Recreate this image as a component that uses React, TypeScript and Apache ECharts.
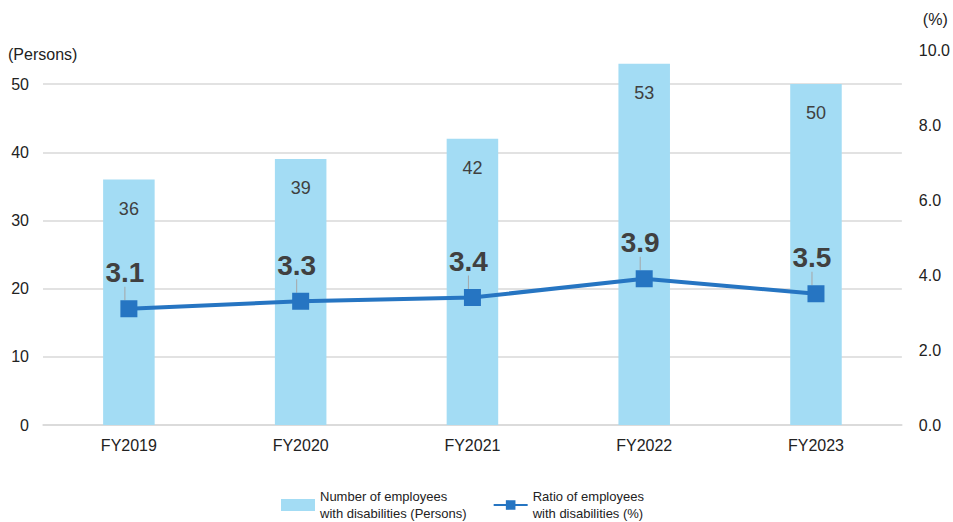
import React, { useEffect, useRef } from "react";
import * as echarts from "echarts";

const categories = ["FY2019", "FY2020", "FY2021", "FY2022", "FY2023"];
const employeeCounts = [36, 39, 42, 53, 50];
const employeeRatios = [3.1, 3.3, 3.4, 3.9, 3.5];
const barName = "Number of employees\nwith disabilities (Persons)";
const lineName = "Ratio of employees\nwith disabilities (%)";

const FONT = "'Liberation Sans', Arial, sans-serif";

export default function App() {
  const ref = useRef<HTMLDivElement>(null);
  useEffect(() => {
    if (!ref.current) return;
    const chart = echarts.init(ref.current, undefined, { renderer: "svg" });
    chart.setOption({
      animation: false,
      textStyle: { fontFamily: FONT },
      grid: { left: 43, right: 50, top: 50, bottom: 97, containLabel: false },
      legend: {
        bottom: -5,
        left: 276,
        itemWidth: 34,
        itemHeight: 12,
        itemGap: 26,
        textStyle: { fontSize: 13, color: "#222", lineHeight: 17, fontFamily: FONT },
        data: [
          { name: barName, icon: "rect" },
          { name: lineName },
        ],
      },
      xAxis: {
        type: "category",
        data: categories,
        axisLine: { show: true, lineStyle: { color: "#d9d9d9", width: 1.5 } },
        axisTick: { show: false },
        axisLabel: { color: "#222", fontSize: 16, margin: 12 },
      },
      yAxis: [
        {
          type: "value",
          min: 0,
          max: 55,
          interval: 10,
          name: "(Persons)",
          nameLocation: "end",
          nameGap: -12,
          nameTextStyle: { fontSize: 16, color: "#222", align: "left", padding: [0, 0, 0, -35] },
          axisLine: { show: false },
          axisTick: { show: false },
          axisLabel: { color: "#222", fontSize: 16, margin: 14, showMaxLabel: false },
          splitLine: {
            show: true,
            lineStyle: {
              color: ["#d9d9d9", "#d9d9d9", "#d9d9d9", "#d9d9d9", "#d9d9d9", "#d9d9d9", "rgba(0,0,0,0)"],
              width: 1.5,
            },
          },
        },
        {
          type: "value",
          min: 0,
          max: 10,
          interval: 2,
          name: "(%)",
          nameLocation: "end",
          nameGap: 23,
          nameTextStyle: { fontSize: 16, color: "#222", align: "left", padding: [0, 0, 0, 21] },
          axisLine: { show: false },
          axisTick: { show: false },
          splitLine: { show: false },
          axisLabel: {
            color: "#222",
            fontSize: 16,
            margin: 17,
            formatter: (v: number) => v.toFixed(1),
          },
        },
      ],
      series: [
        {
          name: barName,
          type: "bar",
          yAxisIndex: 0,
          data: employeeCounts,
          barWidth: "30%",
          itemStyle: { color: "#a3dcf4" },
          clip: false,
          label: {
            show: true,
            position: "insideTop",
            distance: 20,
            fontSize: 18,
            color: "#404040",
          },
        },
        {
          name: lineName,
          type: "line",
          yAxisIndex: 1,
          data: employeeRatios,
          symbol: "rect",
          symbolSize: 17,
          lineStyle: { color: "#2675c2", width: 4 },
          itemStyle: { color: "#2675c2" },
          z: 5,
          label: {
            show: true,
            position: "top",
            fontSize: 28,
            fontWeight: "bold",
            color: "#404040",
            formatter: (p: any) => Number(p.value).toFixed(1),
          },
          labelLayout: (params: any) => ({
            x: params.rect.x + params.rect.width / 2 - 4,
            y: params.rect.y + params.rect.height / 2 - 36,
            align: "center",
            verticalAlign: "middle",
          }),
          labelLine: {
            show: true,
            length2: 0,
            lineStyle: { color: "#a6a6a6", width: 1 },
          },
        },
      ],
    });
    return () => chart.dispose();
  }, []);
  return <div ref={ref} style={{ width: 953, height: 522, position: "absolute", left: 0, top: 0 }} />;
}
